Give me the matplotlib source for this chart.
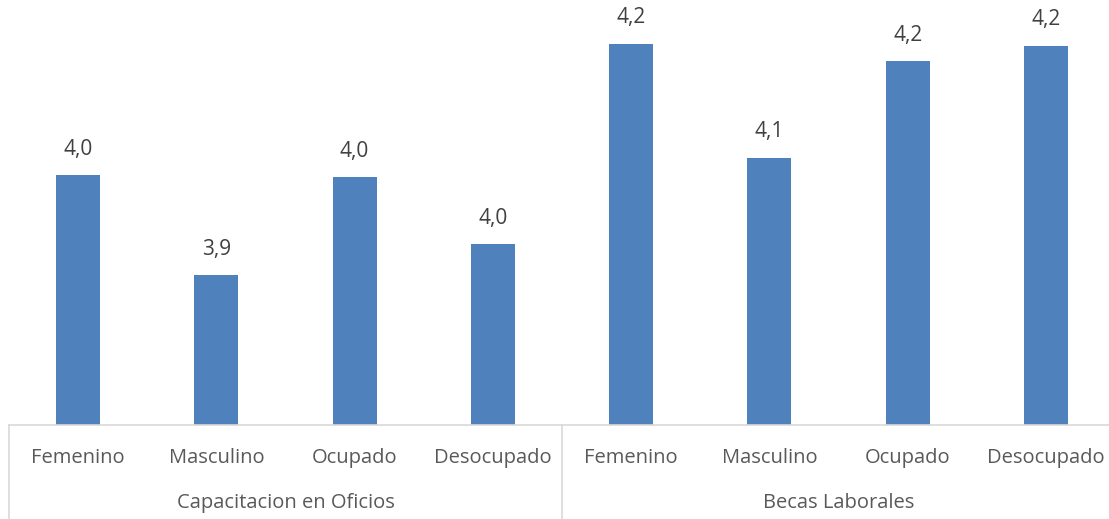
import matplotlib
matplotlib.use("Agg")
import matplotlib.pyplot as plt
from matplotlib.lines import Line2D

plt.rcParams['font.family'] = ['Open Sans', 'DejaVu Sans']

groups = ["Capacitacion en Oficios", "Becas Laborales"]
categories = ["Femenino", "Masculino", "Ocupado", "Desocupado"]
capacitacion = [4.045, 3.947, 4.043, 3.977]
becas = [4.174, 4.062, 4.157, 4.172]

values = capacitacion + becas
labels = categories * len(groups)

W, H = 1109, 519
fig = plt.figure(figsize=(W / 100, H / 100), dpi=100)

# axes in pixel terms: left 9, group width 553, baseline at 425 from top
left_px, cat_w = 9, 553 / 4
n = len(values)
ax_left = left_px / W
ax_w = (cat_w * n) / W
ax_bottom = (H - 425) / H
ax_h = 425 / H
ax = fig.add_axes([ax_left, ax_bottom, ax_w, ax_h])

ymin = 3.8
ymax = ymin + 425 / 1020
ax.set_ylim(ymin, ymax)
ax.set_xlim(-0.5, n - 0.5)

x = list(range(n))
bars = ax.bar(x, [v - ymin for v in values], bottom=ymin, width=44 / cat_w,
              color="#4f81bd")
for xi, v in zip(x, values):
    ax.text(xi, v + 0.015, f"{v:.1f}".replace(".", ","), ha="center",
            va="bottom", fontsize=15, color="#404040")

for s in ["top", "right", "left"]:
    ax.spines[s].set_visible(False)
ax.spines["bottom"].set_color("#d9d9d9")
ax.spines["bottom"].set_linewidth(1.2)
ax.set_yticks([])
ax.set_xticks([])

# category labels and group labels below the axis
for xi, lab in zip(x, labels):
    ax.text(xi, -33 / 1020 + ymin, lab, ha="center", va="center",
            fontsize=14.5, color="#595959", clip_on=False)
for gi, g in enumerate(groups):
    ax.text(gi * 4 + 1.5, -78 / 1020 + ymin, g, ha="center", va="center",
            fontsize=14.5, color="#595959", clip_on=False)

# vertical group separators below the baseline
for gx in [-0.5, 3.5, 7.5]:
    ax.add_line(Line2D([gx, gx], [ymin, ymin - 100 / 1020], color="#d9d9d9",
                       linewidth=1.2, clip_on=False))

fig.savefig("out.png", dpi=100)
